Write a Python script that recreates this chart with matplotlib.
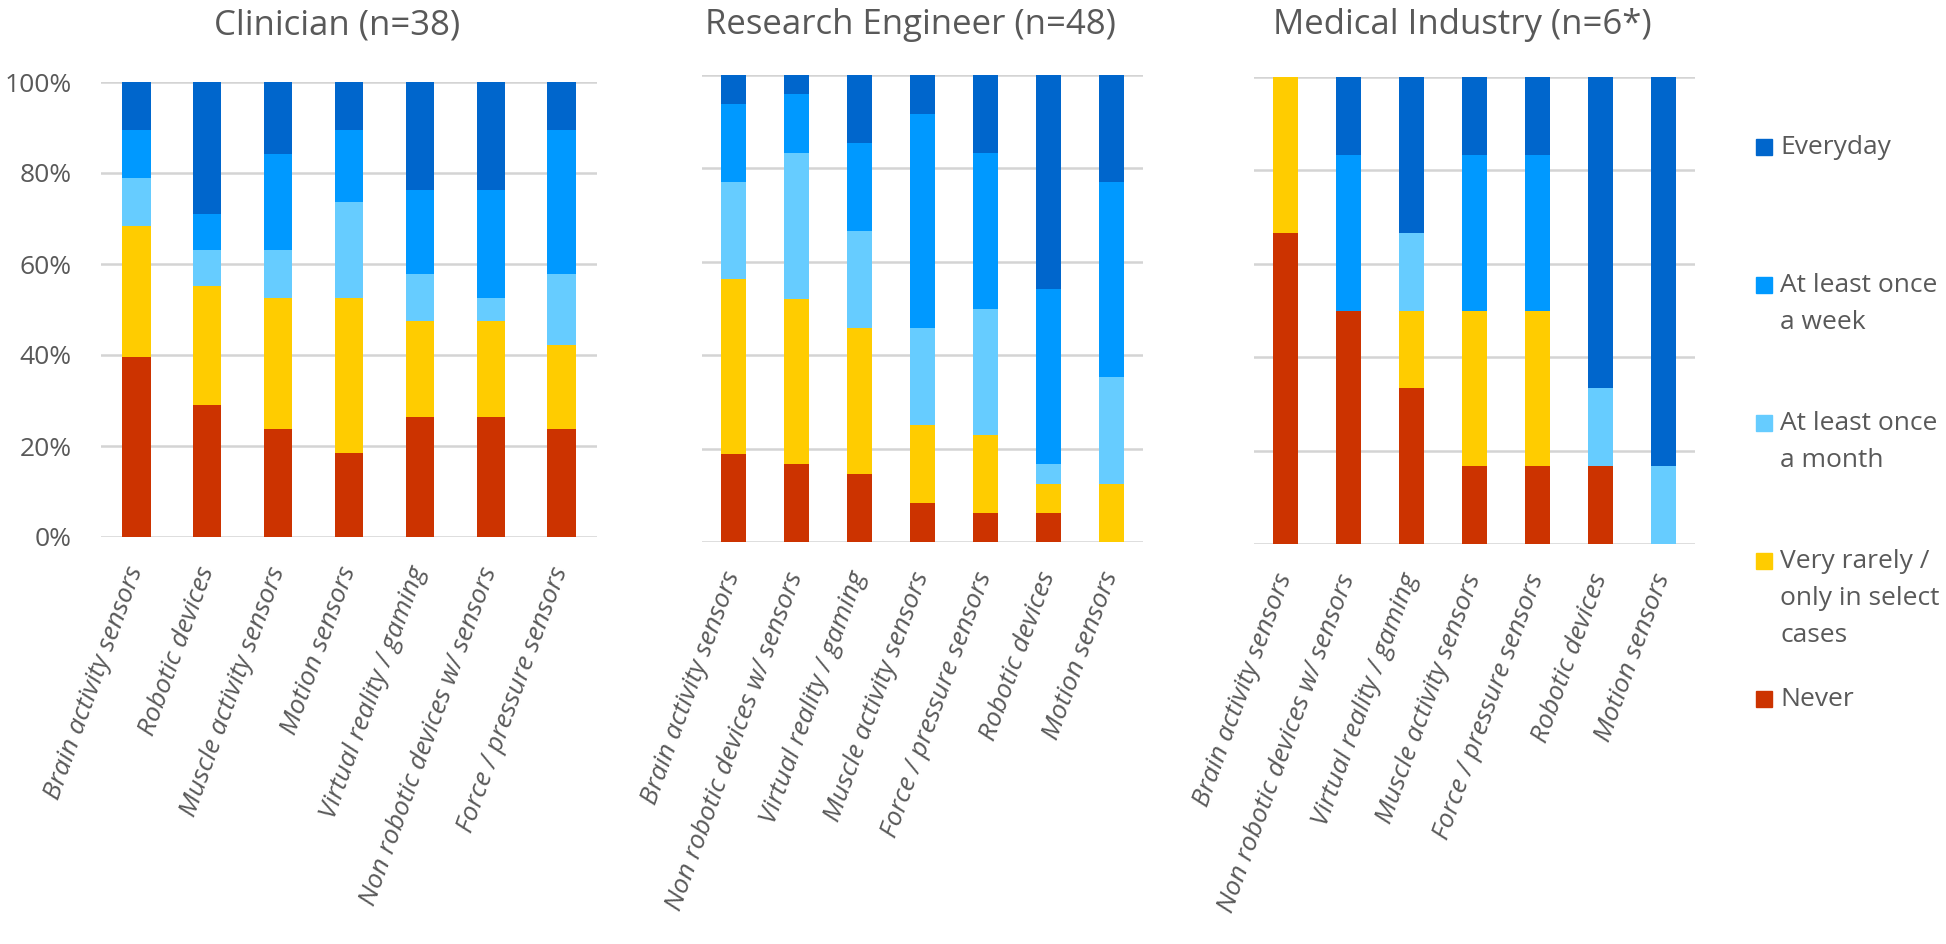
import numpy as np
import matplotlib
matplotlib.use("Agg")
import matplotlib.pyplot as plt
from matplotlib.patches import Rectangle

plt.rcParams['font.family'] = ['Open Sans', 'DejaVu Sans']

# === DATA (response counts) ===
levels = ["Never", "Very rarely /\nonly in select\ncases", "At least once\na month",
          "At least once\na week", "Everyday"]
colors = ["#CC3300", "#FFCC00", "#66CCFF", "#0099FF", "#0066CC"]

clin_title = "Clinician (n=38)"
clin_cats = ["Brain activity sensors", "Robotic devices", "Muscle activity sensors",
             "Motion sensors", "Virtual reality / gaming",
             "Non robotic devices w/ sensors", "Force / pressure sensors"]
clin_never = [15, 11, 9, 7, 10, 10, 9]
clin_rarely = [11, 10, 11, 13, 8, 8, 7]
clin_month = [4, 3, 4, 8, 4, 2, 6]
clin_week = [4, 3, 8, 6, 7, 9, 12]
clin_everyday = [4, 11, 6, 4, 9, 9, 4]

eng_title = "Research Engineer (n=48)"
eng_cats = ["Brain activity sensors", "Non robotic devices w/ sensors",
            "Virtual reality / gaming", "Muscle activity sensors",
            "Force / pressure sensors", "Robotic devices", "Motion sensors"]
eng_never = [9, 8, 7, 4, 3, 3, 0]
eng_rarely = [18, 17, 15, 8, 8, 3, 6]
eng_month = [10, 15, 10, 10, 13, 2, 11]
eng_week = [8, 6, 9, 22, 16, 18, 20]
eng_everyday = [3, 2, 7, 4, 8, 22, 11]

med_title = "Medical Industry (n=6*)"
med_cats = eng_cats
med_never = [4, 3, 2, 1, 1, 1, 0]
med_rarely = [2, 0, 1, 2, 2, 0, 0]
med_month = [0, 0, 1, 0, 0, 1, 1]
med_week = [0, 2, 0, 2, 2, 0, 0]
med_everyday = [0, 1, 2, 1, 1, 4, 5]

yticks = [0, 0.2, 0.4, 0.6, 0.8, 1.0]
ytick_labels = ["0%", "20%", "40%", "60%", "80%", "100%"]

TEXT = "#595959"
GRID = "#D4D4D4"
W, H = 1946, 944

fig = plt.figure(figsize=(W / 100, H / 100), dpi=100)


def px_axes(x0, y0, x1, y1):
    # axes from pixel box (top-left origin)
    return fig.add_axes([x0 / W, 1 - y1 / H, (x1 - x0) / W, (y1 - y0) / H])


panels = [
    (clin_title, clin_cats, [clin_never, clin_rarely, clin_month, clin_week, clin_everyday],
     (101, 82, 597, 537), True),
    (eng_title, eng_cats, [eng_never, eng_rarely, eng_month, eng_week, eng_everyday],
     (702, 75, 1143, 542), False),
    (med_title, med_cats, [med_never, med_rarely, med_month, med_week, med_everyday],
     (1254, 77, 1695, 544), False),
]

for title, cats, series, box, show_y in panels:
    ax = px_axes(*box)
    counts = np.array(series, dtype=float)
    share = counts / counts.sum(axis=0)
    x = np.arange(len(cats))
    bottom = np.zeros(len(cats))
    for vals, col in zip(share, colors):
        ax.bar(x, vals, width=0.4, bottom=bottom, color=col, edgecolor='none', zorder=3)
        bottom += vals

    ax.set_xlim(-0.5, len(cats) - 0.5)
    ax.set_ylim(0, 1)
    ax.set_yticks(yticks)
    ax.yaxis.grid(True, color=GRID, linewidth=1.8, zorder=0)
    ax.set_axisbelow(True)
    for sp in ax.spines.values():
        sp.set_visible(False)

    if show_y:
        ax.set_yticklabels(ytick_labels, fontsize=19, color=TEXT)
        ax.tick_params(axis='y', length=0, pad=21)
    else:
        ax.tick_params(axis='y', length=0, labelleft=False)

    ax.set_xticks(x)
    ax.set_xticklabels(cats, rotation=70, ha='right', va='center', rotation_mode='anchor',
                       fontsize=19, color=TEXT, style='italic')
    ax.tick_params(axis='x', length=0, pad=22)

    cx = (box[0] + box[2]) / 2 - 12
    fig.text(cx / W, 1 - 25 / H, title, ha='center', va='center', fontsize=25, color=TEXT)

# === LEGEND (drawn by hand to keep Excel-like even spacing) ===
leg = fig.add_axes([0, 0, 1, 1])
leg.set_xlim(0, W)
leg.set_ylim(H, 0)
leg.axis('off')
for i, (lab, col) in enumerate(zip(levels[::-1], colors[::-1])):
    y0 = 147 + i * 138
    leg.add_patch(Rectangle((1756, y0 - 8), 16, 16, color=col))
    for j, line in enumerate(lab.split("\n")):
        leg.text(1780, y0 + j * 37.5, line, ha='left', va='center', fontsize=19, color=TEXT)

fig.savefig("out.png", dpi=100)
